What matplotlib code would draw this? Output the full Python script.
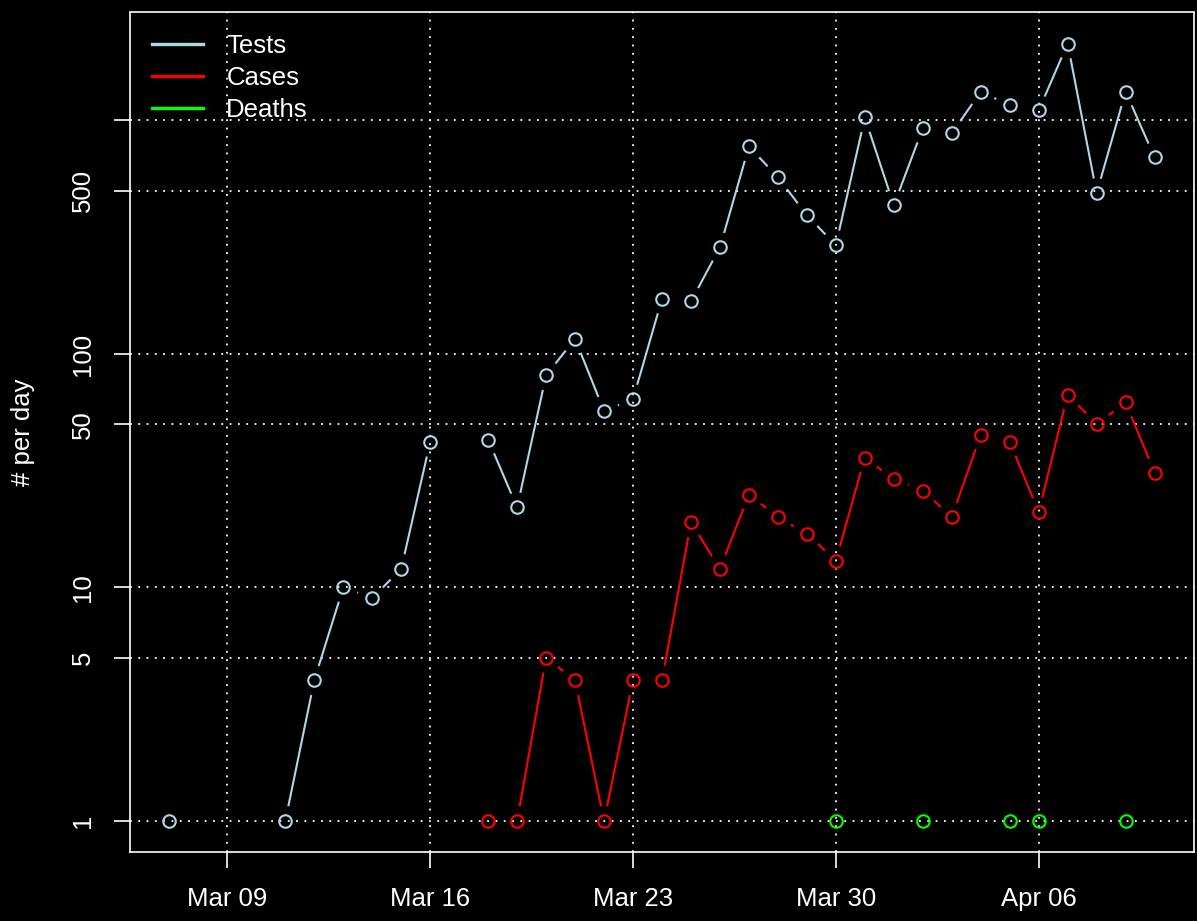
import numpy as np
import pandas as pd
import matplotlib
matplotlib.use("Agg")
import matplotlib.pyplot as plt
import matplotlib.dates as mdates
from matplotlib.collections import LineCollection

# daily counts, Mar 07 .. Apr 10 (None = zero / no data, not shown on log axis)
dates = pd.date_range("2020-03-07", "2020-04-10", freq="D")
tests = [1, None, None, None, 1, 4, 10, 9, 12, 42, None, 43, 22, 81, 116, 57, 64,
         172, 168, 286, 774, 571, 393, 292, 1030, 433, 925, 880, 1330, 1159, 1105,
         2134, 488, 1330, 695]
cases = [None] * 11 + [1, 1, 5, 4, 1, 4, 4, 19, 12, 25, 20, 17, 13, 36, 29, 26,
                       20, 45, 42, 21, 67, 50, 62, 31]
deaths = [None] * 23 + [1, None, None, 1, None, None, 1, 1, None, None, 1, None]

series = [("Tests", tests, "#ADD8E6"), ("Cases", cases, "#FF0000"), ("Deaths", deaths, "#00FF00")]
week_ticks = pd.to_datetime(["2020-03-09", "2020-03-16", "2020-03-23", "2020-03-30", "2020-04-06"])
y_ticks = [1, 5, 10, 50, 100, 500, 1000]
y_labels = ["1", "5", "10", "50", "100", "500", ""]

plt.rcParams["font.family"] = ["Liberation Sans", "DejaVu Sans"]
fs = 18.5

fig = plt.figure(figsize=(11.97, 9.21), dpi=100, facecolor="black")
ax = fig.add_axes([130 / 1197, 1 - 852 / 921, 1064 / 1197, 839.5 / 921], facecolor="black")
ax.set_yscale("log")

x = mdates.date2num(dates)
span = x[-1] - x[0]
ax.set_xlim(x[0] - 0.04 * span, x[-1] + 0.04 * span)
all_vals = [v for _, s, _ in series for v in s if v]
lo, hi = np.log10(min(all_vals)), np.log10(max(all_vals))
pad = 0.04 * (hi - lo)
ax.set_ylim(10 ** (lo - pad), 10 ** (hi + pad))

# grid
grid_kw = dict(color="white", lw=1.3, ls=(0, (1, 3.6)), zorder=1)
for t in week_ticks:
    ax.axvline(mdates.date2num(t), **grid_kw)
for t in y_ticks:
    ax.axhline(t, **grid_kw)

# R style type="b": lines with a gap around each point
gap = 15
for name, vals, col in series:
    y = np.array([np.nan if v is None else v for v in vals], dtype=float)
    pix = ax.transData.transform(np.column_stack([x, np.where(np.isnan(y), 1, y)]))
    segs = []
    for i in range(len(x) - 1):
        if np.isnan(y[i]) or np.isnan(y[i + 1]):
            continue
        p1, p2 = pix[i], pix[i + 1]
        d = p2 - p1
        L = np.hypot(*d)
        if L <= 2 * gap:
            continue
        u = d / L
        a = ax.transData.inverted().transform(p1 + gap * u)
        b = ax.transData.inverted().transform(p2 - gap * u)
        segs.append([a, b])
    ax.add_collection(LineCollection(segs, colors=col, linewidths=1.5, zorder=3))
    ax.plot(x, y, ls="none", marker="o", ms=9, mfc="none", mec=col, mew=1.5, zorder=4)
    ax.plot([], [], color=col, lw=2.4, label=name)

ax.set_xticks(mdates.date2num(week_ticks))
ax.xaxis.set_major_formatter(mdates.DateFormatter("%b %d"))
ax.set_yticks(y_ticks)
ax.set_yticklabels(y_labels)
ax.yaxis.set_minor_locator(matplotlib.ticker.NullLocator())
for lab in ax.get_yticklabels():
    lab.set_rotation(90)
    lab.set_va("center")
ax.tick_params(colors="white", labelcolor="white", labelsize=fs, length=11.5, width=1.2, pad=14)
for s in ax.spines.values():
    s.set_color("white")
    s.set_linewidth(1.2)

ax.set_ylabel("# per day", color="white", fontsize=fs, labelpad=25.5)

leg = ax.legend(loc="upper left", frameon=False, fontsize=fs, handlelength=2.0,
                handletextpad=0.9, labelspacing=0.3, borderaxespad=0.45,
                bbox_to_anchor=(0.0, 1.0))
for t in leg.get_texts():
    t.set_color("white")

fig.savefig("out.png", dpi=100, facecolor="black")
